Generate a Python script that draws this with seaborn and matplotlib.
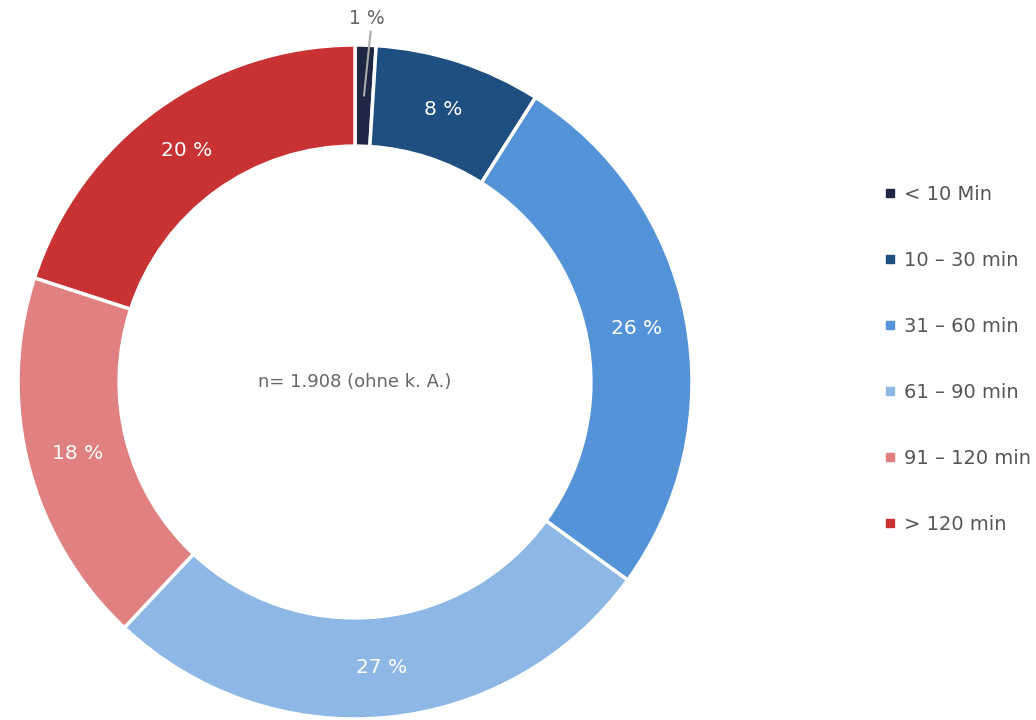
import numpy as np
import matplotlib
matplotlib.use('Agg')
import matplotlib.pyplot as plt
from matplotlib.lines import Line2D
import seaborn as sns

labels = ['< 10 Min', '10 – 30 min', '31 – 60 min', '61 – 90 min', '91 – 120 min', '> 120 min']
shares = [1, 8, 26, 27, 18, 20]
colors = ['#1e2844', '#1f4e80', '#5593d8', '#8db7e4', '#e08080', '#c83232']
n_note = 'n= 1.908 (ohne k. A.)'

sns.set_theme(style='white')
plt.rcParams['font.family'] = ['DejaVu Sans']

fig = plt.figure(figsize=(10.36, 7.2), dpi=100)
ax = fig.add_axes([18 / 1036, 1 / 720, 674 / 1036, 674 / 720])

wedges, _ = ax.pie(shares, colors=colors, startangle=90, counterclock=False,
                   radius=1.0, wedgeprops=dict(width=0.3, edgecolor='white', linewidth=2.5))
ax.set_aspect('equal')
ax.set_xlim(-1, 1)
ax.set_ylim(-1, 1)
ax.axis('off')

# percentage labels
for w, s in zip(wedges, shares):
    ang = np.deg2rad((w.theta1 + w.theta2) / 2)
    if s < 3:
        x0, y0 = 0.85 * np.cos(ang), 0.85 * np.sin(ang)
        x1, y1 = 1.0 * np.cos(ang) + 0.015, 1.04
        ax.plot([x0, x1], [y0, y1], color='#aaaaaa', lw=1.5, clip_on=False)
        ax.text(x1 - 0.01, 1.08, f'{s} %', ha='center', va='center', fontsize=13.5,
                color='#666666')
    else:
        ax.text(0.85 * np.cos(ang), 0.85 * np.sin(ang), f'{s} %', ha='center', va='center',
                fontsize=14.5, color='white')

ax.text(0, 0, n_note, ha='center', va='center', fontsize=13, color='#666666')

handles = [Line2D([0], [0], marker='s', linestyle='', markersize=6, color=c) for c in colors]
leg = fig.legend(handles, labels, loc='upper left', bbox_to_anchor=(876 / 1036, 1 - 177 / 720),
                 frameon=False, fontsize=14, labelspacing=2.42, handlelength=0.6,
                 handletextpad=0.45, borderaxespad=0)
for t in leg.get_texts():
    t.set_color('#555555')

fig.savefig('out.png', dpi=100)
